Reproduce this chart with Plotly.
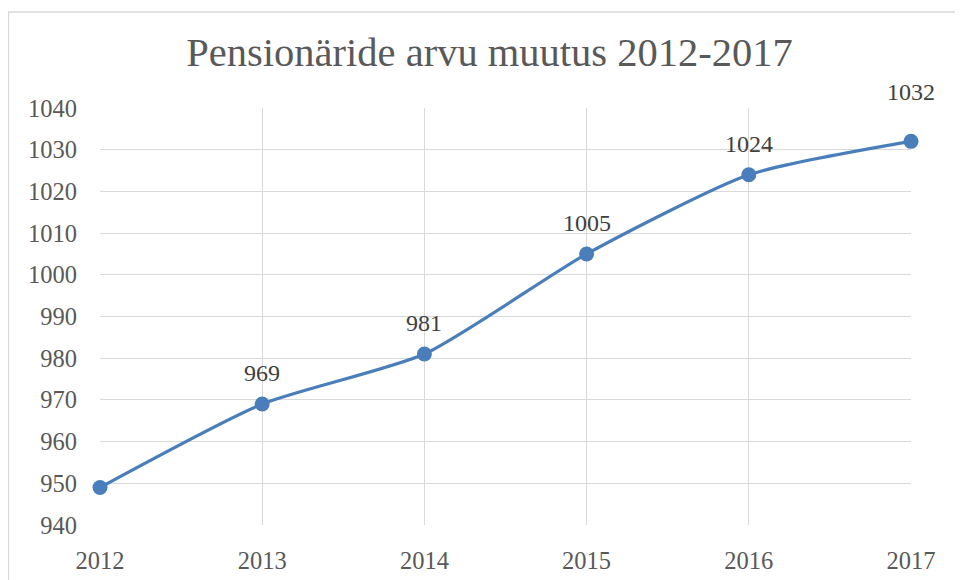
import plotly.graph_objects as go

years = [2012, 2013, 2014, 2015, 2016, 2017]
pensioners = [949, 969, 981, 1005, 1024, 1032]
show_label = [False, True, True, True, True, True]
label_shift = [31, 31, 31, 31, 31, 49]
y_ticks = [940, 950, 960, 970, 980, 990, 1000, 1010, 1020, 1030, 1040]

FONT = "Liberation Serif"

fig = go.Figure()
fig.add_trace(go.Scatter(
    x=years, y=pensioners, mode="lines+markers",
    line=dict(color="#4a7ebb", width=3.2, shape="spline", smoothing=0.6),
    marker=dict(color="#4a7ebb", size=15),
    hoverinfo="x+y", showlegend=False, cliponaxis=False,
))

for x, y, s, show in zip(years, pensioners, label_shift, show_label):
    if show:
        fig.add_annotation(x=x, y=y, text=str(y), showarrow=False, yshift=s,
                           font=dict(family=FONT, size=24, color="#404040"))

fig.add_shape(type="rect", xref="paper", yref="paper",
              x0=-0.113, x1=1.1, y0=-0.3, y1=1.23,
              line=dict(color="#d9d9d9", width=1.5), layer="below")

fig.update_layout(
    width=963, height=580,
    margin=dict(l=92, r=60, t=100, b=63, autoexpand=False),
    paper_bgcolor="white", plot_bgcolor="white",
    title=dict(text="Pensionäride arvu muutus 2012-2017", x=0.5, xanchor="center",
               y=0.924, yanchor="middle",
               font=dict(family=FONT, size=40.5, color="#595959")),
    xaxis=dict(range=[2012, 2017], tickmode="array", tickvals=years,
               ticktext=[str(v) for v in years], automargin=False,
               showgrid=True, gridcolor="#d9d9d9", gridwidth=1.3,
               zeroline=False, showline=False, ticks="",
               tickfont=dict(family=FONT, size=24.5, color="#595959"),
               ticklabelstandoff=18),
    yaxis=dict(range=[940, 1040], tickmode="array", tickvals=y_ticks, automargin=False,
               showgrid=True, gridcolor="#d9d9d9", gridwidth=1.3,
               zeroline=False, showline=False, ticks="",
               tickfont=dict(family=FONT, size=24.5, color="#595959"),
               ticklabelstandoff=22),
    font=dict(family=FONT),
)

fig.write_html("out.html")
